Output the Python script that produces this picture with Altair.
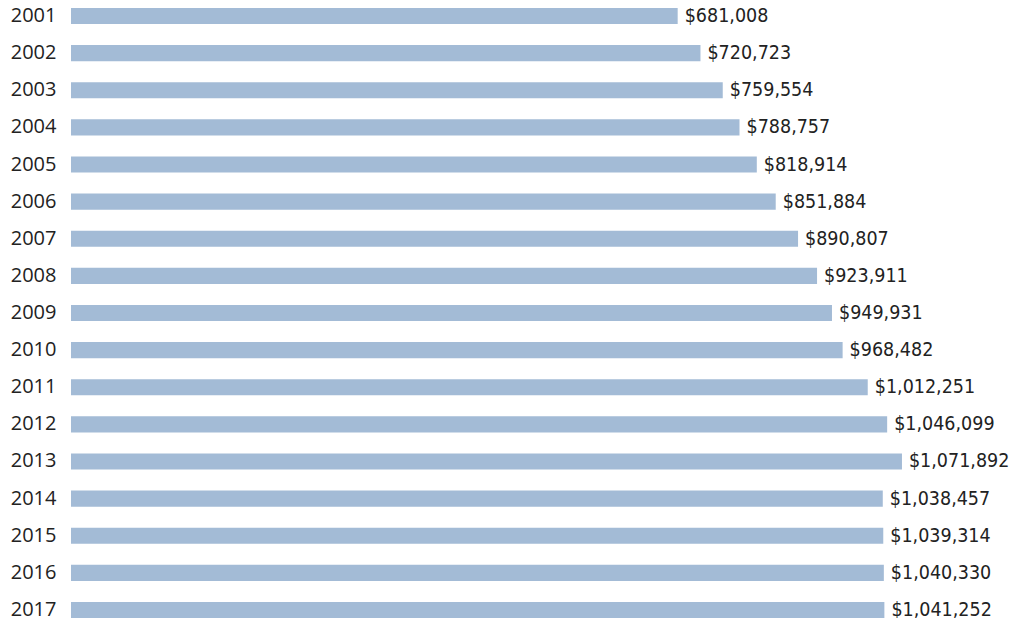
import altair as alt
import pandas as pd

years = ["2001", "2002", "2003", "2004", "2005", "2006", "2007", "2008", "2009",
         "2010", "2011", "2012", "2013", "2014", "2015", "2016", "2017"]
values = [681008, 720723, 759554, 788757, 818914, 851884, 890807, 923911, 949931,
          968482, 1012251, 1046099, 1071892, 1038457, 1039314, 1040330, 1041252]
labels = ["$" + format(v, ",") for v in values]

x_min = -376300
x_max = 1244500

df = pd.DataFrame({"year": years, "value": values, "label": labels,
                   "start": [x_min] * len(years)})

x_scale = alt.Scale(domain=[x_min, x_max], zero=False, nice=False)
y_scale = alt.Scale(paddingInner=0.569, paddingOuter=0)

base = alt.Chart(df).encode(
    y=alt.Y("year:N", sort=years, scale=y_scale,
            axis=alt.Axis(title=None, ticks=False, domain=False, labelPadding=15,
                          labelFont="Open Sans", labelFontSize=20, labelColor="#222222",
                          minExtent=63, maxExtent=63)),
)

bars = base.mark_bar(color="#a3bbd6").encode(
    x=alt.X("value:Q", scale=x_scale, axis=None),
    x2=alt.X2("start:Q"),
)

text = base.mark_text(align="left", baseline="middle", dx=7,
                      font="DejaVu Sans Condensed", fontSize=19.5,
                      color="#222222").encode(
    x=alt.X("value:Q", scale=x_scale, axis=None),
    text="label:N",
)

chart = (bars + text).properties(
    width=930, height=610,
    padding={"left": 63, "top": 0, "right": 9, "bottom": 0},
    autosize=alt.AutoSizeParams(type="none"),
).configure_view(stroke=None)

chart.save("out.html", embed_options={"renderer": "svg", "actions": False})
